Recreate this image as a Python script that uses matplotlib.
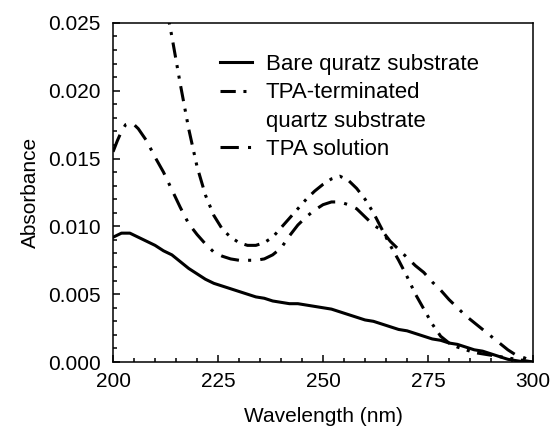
import matplotlib
matplotlib.use('Agg')
import matplotlib.pyplot as plt
from matplotlib.lines import Line2D
from matplotlib.ticker import MultipleLocator, FormatStrFormatter

plt.rcParams['font.family'] = ['Liberation Sans', 'DejaVu Sans']

# Bare quartz substrate
wl_bare = [200, 202, 204, 206, 208, 210, 212, 214, 216, 218, 220, 222, 224, 226, 228,
           230, 232, 234, 236, 238, 240, 242, 244, 246, 248, 250, 252, 254, 256, 258,
           260, 262, 264, 266, 268, 270, 272, 274, 276, 278, 280, 282, 284, 286, 288,
           290, 292, 294, 296, 298, 300]
abs_bare = [0.0092, 0.0095, 0.0095, 0.0092, 0.0089, 0.0086, 0.0082, 0.0079, 0.0074, 0.0069,
            0.0065, 0.0061, 0.0058, 0.0056, 0.0054, 0.0052, 0.0050, 0.0048, 0.0047, 0.0045,
            0.0044, 0.0043, 0.0043, 0.0042, 0.0041, 0.0040, 0.0039, 0.0037, 0.0035, 0.0033,
            0.0031, 0.0030, 0.0028, 0.0026, 0.0024, 0.0023, 0.0021, 0.0019, 0.0017, 0.0016,
            0.0014, 0.0013, 0.0011, 0.0009, 0.0008, 0.0006, 0.0004, 0.0002, 0.0001, 0.0000,
            0.0000]

# TPA-terminated quartz substrate
wl_term = [212, 214, 216, 218, 220, 222, 224, 226, 228, 230, 232, 234, 236, 238, 240,
           242, 244, 246, 248, 250, 252, 254, 256, 258, 260, 262, 264, 266, 268, 270,
           272, 274, 276, 278, 280, 282, 284, 286, 288, 290, 292, 294, 296, 298, 300]
abs_term = [0.0272, 0.0240, 0.0205, 0.0172, 0.0144, 0.0123, 0.0108, 0.0098, 0.0092, 0.0088,
            0.0086, 0.0086, 0.0088, 0.0092, 0.0099, 0.0106, 0.0113, 0.0120, 0.0126, 0.0131,
            0.0135, 0.0137, 0.0134, 0.0128, 0.0120, 0.0110, 0.0098, 0.0086, 0.0075, 0.0063,
            0.0050, 0.0039, 0.0028, 0.0019, 0.0014, 0.0011, 0.0009, 0.0007, 0.0006, 0.0005,
            0.0004, 0.0003, 0.0002, 0.0001, 0.0000]

# TPA solution
wl_sol = [200, 201, 202, 203, 204, 205, 206, 208, 210, 212, 214, 216, 218, 220, 222,
          224, 226, 228, 230, 232, 234, 236, 238, 240, 242, 244, 246, 248, 250, 252,
          254, 256, 258, 260, 262, 264, 266, 268, 270, 272, 274, 276, 278, 280, 282,
          284, 286, 288, 290, 292, 294, 296, 298, 300]
abs_sol = [0.0155, 0.0163, 0.0170, 0.0175, 0.0176, 0.0175, 0.0172, 0.0163, 0.0151, 0.0140,
           0.0127, 0.0114, 0.0102, 0.0094, 0.0087, 0.0081, 0.0078, 0.0076, 0.0075, 0.0075,
           0.0075, 0.0076, 0.0079, 0.0084, 0.0093, 0.0101, 0.0107, 0.0112, 0.0116, 0.0118,
           0.0118, 0.0116, 0.0113, 0.0107, 0.0101, 0.0097, 0.0089, 0.0083, 0.0077, 0.0071,
           0.0066, 0.0059, 0.0053, 0.0046, 0.0040, 0.0034, 0.0029, 0.0024, 0.0019, 0.0014,
           0.0009, 0.0005, 0.0003, 0.0000]

fig = plt.figure(figsize=(5.57, 4.32), dpi=100)
ax = fig.add_axes([0.203, 0.162, 0.754, 0.785])

lw = 2.2
dash_term = (5, 2.5, 1, 2.5, 1, 2.5)
dash_sol = (6, 3, 1, 3)

ax.plot(wl_bare, abs_bare, color='black', lw=lw)
ax.plot(wl_term, abs_term, color='black', lw=lw, dashes=dash_term)
ax.plot(wl_sol, abs_sol, color='black', lw=lw, dashes=dash_sol)

ax.set_xlim(200, 300)
ax.set_ylim(0, 0.025)
ax.xaxis.set_major_locator(MultipleLocator(25))
ax.xaxis.set_minor_locator(MultipleLocator(5))
ax.yaxis.set_major_locator(MultipleLocator(0.005))
ax.yaxis.set_minor_locator(MultipleLocator(0.001))
ax.yaxis.set_major_formatter(FormatStrFormatter('%.3f'))
ax.tick_params(which='both', direction='in', top=False, right=False, labelsize=15, width=1.1)
ax.tick_params(which='major', length=5)
ax.tick_params(which='minor', length=3)
ax.tick_params(axis='x', which='major', pad=7.5)
ax.tick_params(axis='y', which='major', pad=9)
for s in ax.spines.values():
    s.set_linewidth(1.1)

ax.set_xlabel('Wavelength (nm)', fontsize=15, labelpad=11)
ax.set_ylabel('Absorbance', fontsize=15, labelpad=6)

handles = [
    Line2D([], [], color='black', lw=lw),
    Line2D([], [], color='black', lw=lw, dashes=dash_term),
    Line2D([], [], linestyle='none'),
    Line2D([], [], color='black', lw=lw, dashes=dash_sol),
]
labels = ['Bare quratz substrate', 'TPA-terminated', 'quartz substrate', 'TPA solution']
ax.legend(handles, labels, loc='upper left', bbox_to_anchor=(0.255, 0.908), frameon=False,
          fontsize=16, handlelength=1.45, handletextpad=0.6, labelspacing=0.33, borderpad=0,
          borderaxespad=0)

fig.savefig('out.png', dpi=100)
